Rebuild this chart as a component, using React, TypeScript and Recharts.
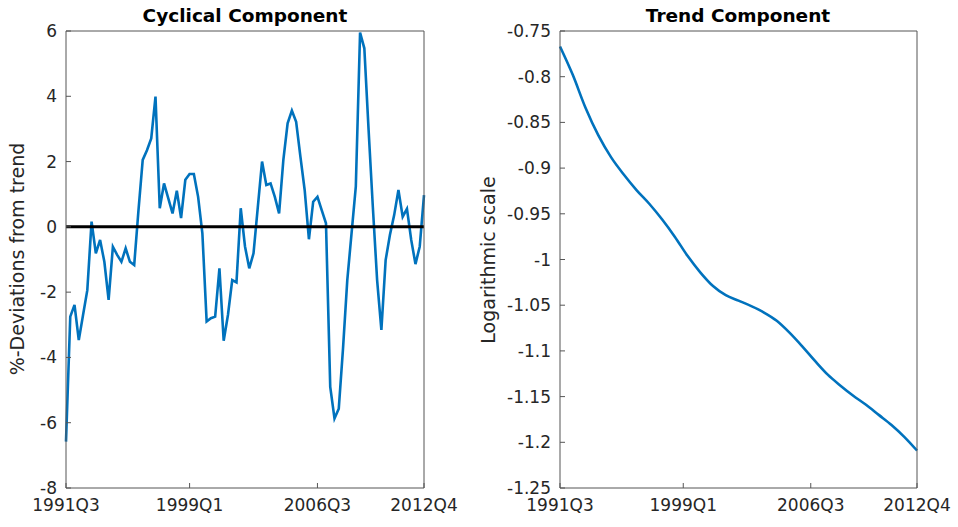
import React from "react";
import { LineChart, Line, XAxis, YAxis, ReferenceLine } from "recharts";

// quarter labels shown on the x axis and the quarter index they sit at
const tickLabels = ["1991Q3", "1999Q1", "2006Q3", "2012Q4"];
const tickIndex = [0, 29, 59, 84];

// cyclical component, % deviations from trend, one value per quarter
const cyclical = [
  -6.58, -2.75, -2.39, -3.47, -2.7, -1.94, 0.16, -0.81, -0.4, -1.07,
  -2.24, -0.61, -0.86, -1.07, -0.66, -1.07, -1.17, 0.5, 2.05, 2.35,
  2.71, 3.99, 0.57, 1.33, 0.87, 0.41, 1.11, 0.27, 1.44, 1.62,
  1.62, 0.92, -0.2, -2.9, -2.8, -2.75, -1.27, -3.49, -2.7, -1.63,
  -1.7, 0.57, -0.6, -1.27, -0.81, 0.6, 2.0, 1.28, 1.33, 0.92,
  0.41, 2.05, 3.17, 3.56, 3.22, 2.15, 1.13, -0.38, 0.77, 0.92,
  0.51, 0.11, -4.9, -5.87, -5.57, -3.72, -1.63, -0.2, 1.23, 5.95,
  5.47, 2.97, 0.6, -1.63, -3.16, -1.02, -0.25, 0.36, 1.13, 0.31,
  0.55, -0.4, -1.14, -0.6, 0.97,
];

// trend component (log scale), read every third quarter
const trendQuarter = [
  0, 3, 6, 9, 12, 15, 18, 21, 24, 27, 30, 33, 36, 39, 42,
  45, 48, 51, 54, 57, 60, 63, 66, 69, 72, 75, 78, 81, 84,
];
const trend = [
  -0.767, -0.798, -0.834, -0.864, -0.888, -0.907, -0.924, -0.939, -0.956, -0.975,
  -0.996, -1.014, -1.029, -1.039, -1.045, -1.051, -1.058, -1.067, -1.08, -1.095,
  -1.111, -1.126, -1.138, -1.149, -1.159, -1.17, -1.181, -1.194, -1.209,
];

const cycTicks = [-8, -6, -4, -2, 0, 2, 4, 6];
const trendTicks = [-1.25, -1.2, -1.15, -1.1, -1.05, -1, -0.95, -0.9, -0.85, -0.8, -0.75];

const cycData = cyclical.map((v, i) => ({ i, v }));
const trendData = trendQuarter.map((q, k) => ({ i: q, v: trend[k] }));

const font = "'DejaVu Sans', sans-serif";
const axisStroke = "#555555";
const tickStyle = { fontSize: 17, fontFamily: font, fill: "#262626" };

type PanelProps = {
  data: { i: number; v: number }[];
  yTicks: number[];
  yDomain: [number, number];
  yWidth: number;
  left: number;
  width: number;
  rightMargin: number;
  curve: "linear" | "monotone";
  zero?: boolean;
};

const Panel = ({ data, yTicks, yDomain, yWidth, left, width, rightMargin, curve, zero }: PanelProps) => (
  <div style={{ position: "absolute", left, top: 0 }}>
    <LineChart
      width={width}
      height={527}
      data={data}
      margin={{ top: 30, right: rightMargin, bottom: 0, left: 0 }}
    >
      <XAxis
        xAxisId="b"
        dataKey="i"
        type="number"
        domain={[0, 84]}
        ticks={tickIndex}
        interval={0}
        tickFormatter={(v) => tickLabels[tickIndex.indexOf(v)]}
        tickSize={-5}
        tickMargin={16}
        height={39}
        stroke={axisStroke}
        tick={tickStyle}
      />
      <XAxis
        xAxisId="t"
        orientation="top"
        dataKey="i"
        type="number"
        domain={[0, 84]}
        ticks={tickIndex}
        interval={0}
        tick={false}
        tickSize={-5}
        height={1}
        stroke={axisStroke}
      />
      <YAxis
        yAxisId="l"
        type="number"
        domain={yDomain}
        ticks={yTicks}
        interval={0}
        tickSize={-5}
        tickMargin={14}
        width={yWidth}
        stroke={axisStroke}
        tick={tickStyle}
      />
      <YAxis
        yAxisId="r"
        orientation="right"
        type="number"
        domain={yDomain}
        ticks={yTicks}
        interval={0}
        tick={false}
        tickSize={-5}
        width={1}
        stroke={axisStroke}
      />
      {/* invisible copy so the top and right box axes get drawn */}
      <Line
        xAxisId="t"
        yAxisId="r"
        dataKey="v"
        stroke="none"
        dot={false}
        activeDot={false}
        legendType="none"
        isAnimationActive={false}
      />
      <Line
        xAxisId="b"
        yAxisId="l"
        dataKey="v"
        stroke="#0072BD"
        strokeWidth={2.6}
        dot={false}
        type={curve}
        isAnimationActive={false}
      />
      {zero && <ReferenceLine xAxisId="b" yAxisId="l" y={0} stroke="#000000" strokeWidth={3} />}
    </LineChart>
  </div>
);

export default function App() {
  return (
    <div style={{ position: "absolute", left: 0, top: 0, width: 958, height: 527, background: "#fff" }}>
      <Panel data={cycData} yTicks={cycTicks} yDomain={[-8, 6]} yWidth={66} left={0} width={480} rightMargin={55} curve="linear" zero />
      <Panel data={trendData} yTicks={trendTicks} yDomain={[-1.25, -0.75]} yWidth={80} left={480} width={478} rightMargin={40} curve="monotone" />
      <svg width={958} height={527} style={{ position: "absolute", left: 0, top: 0, pointerEvents: "none" }}>
        <text x={245} y={22} textAnchor="middle" fontFamily={font} fontWeight="bold" fontSize={18.5} fill="#000">
          Cyclical Component
        </text>
        <text x={738} y={22} textAnchor="middle" fontFamily={font} fontWeight="bold" fontSize={18.5} fill="#000">
          Trend Component
        </text>
        <text transform="translate(24,259) rotate(-90)" textAnchor="middle" fontFamily={font} fontSize={19} fill="#262626">
          %-Deviations from trend
        </text>
        <text transform="translate(495,260) rotate(-90)" textAnchor="middle" fontFamily={font} fontSize={19} fill="#262626">
          Logarithmic scale
        </text>
      </svg>
    </div>
  );
}
